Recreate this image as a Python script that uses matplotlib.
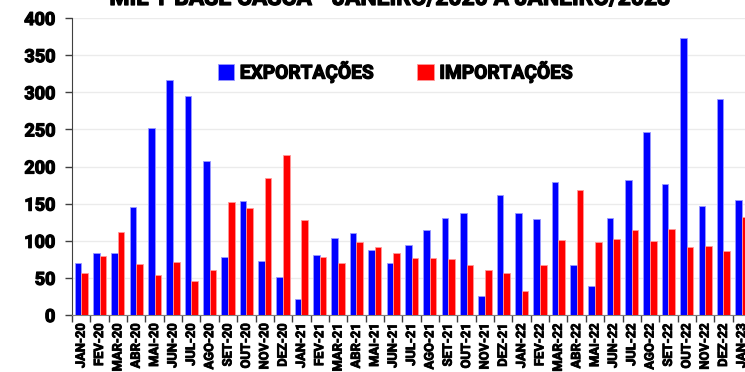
import matplotlib
matplotlib.use("Agg")
import matplotlib.pyplot as plt
import matplotlib.patheffects as pe
import numpy as np

months = ["JAN-20", "FEV-20", "MAR-20", "ABR-20", "MAI-20", "JUN-20", "JUL-20", "AGO-20",
          "SET-20", "OUT-20", "NOV-20", "DEZ-20", "JAN-21", "FEV-21", "MAR-21", "ABR-21",
          "MAI-21", "JUN-21", "JUL-21", "AGO-21", "SET-21", "OUT-21", "NOV-21", "DEZ-21",
          "JAN-22", "FEV-22", "MAR-22", "ABR-22", "MAI-22", "JUN-22", "JUL-22", "AGO-22",
          "SET-22", "OUT-22", "NOV-22", "DEZ-22", "JAN-23"]

exportacoes = [70, 83, 83, 145, 252, 316, 295, 207, 78, 153, 73, 51,
               21, 81, 104, 110, 87, 70, 94, 114, 130, 138, 26, 162,
               138, 129, 179, 68, 39, 131, 182, 246, 177, 373, 147, 291,
               155]

importacoes = [57, 80, 112, 69, 54, 72, 46, 60, 152, 144, 184, 216,
               128, 78, 70, 98, 92, 83, 77, 77, 76, 68, 60, 56,
               32, 67, 101, 168, 98, 102, 115, 99, 116, 92, 93, 86,
               132]

y_ticks = [0, 50, 100, 150, 200, 250, 300, 350, 400]

title = "MIL T BASE CASCA - JANEIRO/2020 A JANEIRO/2023"

plt.rcParams["font.family"] = ["Roboto", "DejaVu Sans"]

# thicken the bold glyphs a little
heavy = [pe.withStroke(linewidth=0.9, foreground="black")]
heavy_small = [pe.withStroke(linewidth=0.6, foreground="black")]

fig = plt.figure(figsize=(7.45, 3.72), dpi=100)
ax = fig.add_axes([72 / 745, 57 / 372, 679 / 745, 297 / 372])

x = np.arange(len(months))
w = 0.36
ax.bar(x - w / 2, exportacoes, width=w, color="#0000ff", edgecolor="#9999ff",
       linewidth=0.6, label="EXPORTAÇÕES", zorder=3)
ax.bar(x + w / 2, importacoes, width=w, color="#ff0000", edgecolor="#ff9999",
       linewidth=0.6, label="IMPORTAÇÕES", zorder=3)

ax.set_xlim(-0.5, len(months) - 0.5)
ax.set_ylim(0, 400)
ax.set_yticks(y_ticks)
ax.set_yticklabels([str(v) for v in y_ticks], fontsize=13, fontweight="bold")
ax.yaxis.grid(True, color="#ebebeb", linewidth=1.0, zorder=0)

ax.set_xticks(x)
ax.set_xticklabels(months, rotation=90, fontsize=9.3, fontweight="bold")
ax.set_xticks(np.arange(len(months) + 1) - 0.5, minor=True)
ax.tick_params(axis="x", which="major", length=0, pad=6)
ax.tick_params(axis="x", which="minor", length=5, width=1, color="#404040", direction="out")
ax.tick_params(axis="y", length=5, width=1, color="#404040", direction="out", pad=7)

for lbl in ax.get_yticklabels():
    lbl.set_path_effects(heavy)
for lbl in ax.get_xticklabels():
    lbl.set_path_effects(heavy_small)

for side in ["top", "right"]:
    ax.spines[side].set_visible(False)
ax.spines["left"].set_color("#404040")
ax.spines["bottom"].set_color("#808080")

fig.text(390 / 745, 1 - 5 / 372, title, ha="center", va="baseline",
         fontsize=16.5, fontweight="bold", path_effects=heavy)

leg = ax.legend(loc="center", bbox_to_anchor=(395 / 745, 1 - 72 / 372),
                bbox_transform=fig.transFigure, ncol=2, frameon=False,
                prop={"size": 13.8, "weight": "bold"}, handlelength=0.85,
                handleheight=0.85, handletextpad=0.3, columnspacing=2.3)
for t in leg.get_texts():
    t.set_path_effects(heavy)

fig.savefig("out.png", dpi=100)
